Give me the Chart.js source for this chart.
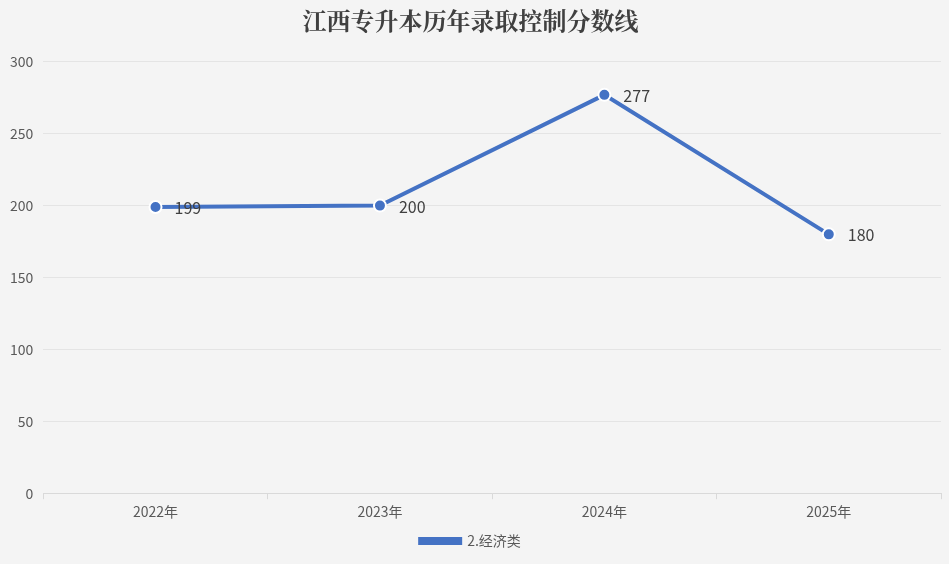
<!DOCTYPE html>
<html><head><meta charset="utf-8">
<script src="https://cdn.jsdelivr.net/npm/chart.js@4/dist/chart.umd.min.js"></script>
<style>html,body{margin:0;background:#f4f4f4;}#wrap{width:949px;height:564px;}</style>
</head><body><div id="wrap"><canvas id="myChart"></canvas></div>
<script>
const categories = ['2022年', '2023年', '2024年', '2025年'];
const economy = [199, 200, 277, 180];
const yTicks = [0, 50, 100, 150, 200, 250, 300];

const pointLabels = {
    id: 'pointLabels',
    afterDatasetsDraw(chart) {
        const c = chart.ctx;
        const meta = chart.getDatasetMeta(0);
        c.save();
        c.font = '16px "Noto Sans CJK SC", sans-serif';
        c.fillStyle = '#404040';
        c.textBaseline = 'middle';
        meta.data.forEach((p, i) => {
            c.fillText(economy[i], p.x + 19, p.y + 1);
        });
        c.restore();
    }
};

const ctx = document.getElementById('myChart').getContext('2d');
new Chart(ctx, {
    type: 'line',
    data: {
        labels: categories,
        datasets: [{
            label: '2.经济类',
            data: economy,
            borderColor: '#4472c4',
            backgroundColor: '#4472c4',
            pointBackgroundColor: '#4472c4',
            pointBorderColor: '#ffffff',
            pointBorderWidth: 2,
            pointRadius: 6,
            borderWidth: 4,
            tension: 0
        }]
    },
    options: {
        responsive: true,
        maintainAspectRatio: false,
        animation: false,
        layout: { padding: { left: 0, right: 8, top: 0, bottom: 6 } },
        scales: {
            x: {
                offset: true,
                grid: { color: '#d9d9d9', offset: true, drawOnChartArea: false, drawTicks: true, tickLength: 6 },
                border: { color: '#d9d9d9' },
                ticks: { color: '#595959', font: { size: 14, family: '"Noto Sans CJK SC", sans-serif' }, padding: 4 }
            },
            y: {
                min: 0, max: 300,
                afterBuildTicks: axis => { axis.ticks = yTicks.map(v => ({ value: v })); },
                grid: { color: '#e4e4e4', drawTicks: false },
                border: { display: false },
                ticks: { color: '#595959', font: { size: 14, family: '"Noto Sans CJK SC", sans-serif' }, padding: 10 }
            }
        },
        plugins: {
            title: {
                display: true,
                text: '江西专升本历年录取控制分数线',
                color: '#404040',
                font: { size: 24, weight: 'bold', family: '"Noto Serif CJK SC", "Noto Sans CJK SC", serif' },
                padding: { top: 6, bottom: 27 }
            },
            legend: {
                display: true,
                position: 'bottom',
                labels: { color: '#595959', font: { size: 14, family: '"Noto Sans CJK SC", sans-serif' }, boxWidth: 40, boxHeight: 4 }
            },
            tooltip: { enabled: false }
        }
    },
    plugins: [pointLabels]
});
</script></body></html>
